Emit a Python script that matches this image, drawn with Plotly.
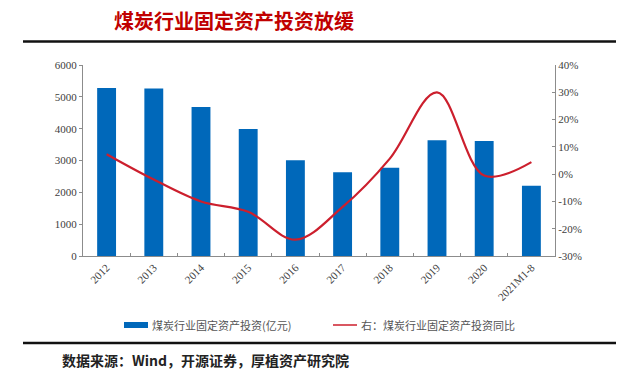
import plotly.graph_objects as go

categories = ["2012", "2013", "2014", "2015", "2016", "2017", "2018", "2019", "2020", "2021M1-8"]
investment = [5280, 5260, 4680, 3990, 3010, 2630, 2770, 3640, 3610, 2210]
yoy_growth = [7.3, -2.0, -10.0, -13.8, -24.0, -12.0, 5.7, 30.0, -0.5, 4.4]

left_ticks = [0, 1000, 2000, 3000, 4000, 5000, 6000]
right_ticks = [-30, -20, -10, 0, 10, 20, 30, 40]
right_labels = [f"{v}%" for v in right_ticks]

title_text = "煤炭行业固定资产投资放缓"
legend_bar = "煤炭行业固定资产投资(亿元)"
legend_line = "右：煤炭行业固定资产投资同比"
source_text = "数据来源：Wind，开源证券，厚植资产研究院"

W, H = 640, 380
L, R, T, B = 83, 85, 65, 124

fig = go.Figure()
fig.add_trace(go.Bar(x=categories, y=investment, marker_color="#0068BA",
                     marker_line_width=0, name=legend_bar, yaxis="y"))
fig.add_trace(go.Scatter(x=categories, y=yoy_growth, mode="lines",
                         line=dict(color="#CC1F2D", width=2.2, shape="spline", smoothing=1.0),
                         name=legend_line, yaxis="y2"))

serif = "Liberation Serif, Times New Roman, serif"
axis_col = "#8c8c8c"

fig.update_layout(
    width=W, height=H,
    margin=dict(l=L, r=R, t=T, b=B, pad=0),
    paper_bgcolor="white", plot_bgcolor="white",
    showlegend=False,
    bargap=0.6,
    xaxis=dict(type="category", tickangle=-45, ticks="inside", tickson="boundaries",
               ticklen=3, tickcolor=axis_col, showline=True, linecolor=axis_col, linewidth=1,
               tickfont=dict(family=serif, size=11, color="#404040"), showgrid=False),
    yaxis=dict(range=[0, 6000], tickvals=left_ticks, ticks="outside", ticklen=3,
               tickcolor=axis_col, showline=True, linecolor=axis_col, linewidth=1,
               showgrid=False, zeroline=False,
               tickfont=dict(family=serif, size=11, color="#404040")),
    yaxis2=dict(range=[-30, 40], tickvals=right_ticks, ticktext=right_labels,
                overlaying="y", side="right", ticks="inside", ticklen=3,
                tickcolor=axis_col, showline=True, linecolor=axis_col, linewidth=1,
                showgrid=False, zeroline=False,
                tickfont=dict(family=serif, size=11, color="#404040")),
)

def to_paper_x(px):
    return (px - L) / (W - L - R)

def to_paper_y(py):
    return (H - B - py) / (H - T - B)

shapes = [
    dict(type="line", xref="paper", yref="paper", x0=to_paper_x(23), x1=to_paper_x(616),
         y0=to_paper_y(41.5), y1=to_paper_y(41.5), line=dict(color="#111111", width=2.5)),
    dict(type="line", xref="paper", yref="paper", x0=to_paper_x(23), x1=to_paper_x(616),
         y0=to_paper_y(343), y1=to_paper_y(343), line=dict(color="#111111", width=2.5)),
    dict(type="rect", xref="paper", yref="paper", x0=to_paper_x(124), x1=to_paper_x(148),
         y0=to_paper_y(328), y1=to_paper_y(322), fillcolor="#0068BA", line=dict(width=0)),
    dict(type="line", xref="paper", yref="paper", x0=to_paper_x(333), x1=to_paper_x(357),
         y0=to_paper_y(325), y1=to_paper_y(325), line=dict(color="#CC1F2D", width=1.5)),
]
fig.update_layout(shapes=shapes)

cjk = "Noto Sans CJK SC, sans-serif"
annotations = [
    dict(text=f"<b>{title_text}</b>", x=to_paper_x(234), y=to_paper_y(20), xref="paper", yref="paper",
         showarrow=False, xanchor="center", yanchor="middle",
         font=dict(family=cjk, size=20, color="#C00000")),
    dict(text=legend_bar, x=to_paper_x(150), y=to_paper_y(325), xref="paper", yref="paper",
         showarrow=False, xanchor="left", yanchor="middle",
         font=dict(family=cjk, size=11, color="#555555")),
    dict(text=legend_line, x=to_paper_x(359), y=to_paper_y(325), xref="paper", yref="paper",
         showarrow=False, xanchor="left", yanchor="middle",
         font=dict(family=cjk, size=11, color="#555555")),
    dict(text=f"<b>{source_text}</b>", x=to_paper_x(60), y=to_paper_y(360), xref="paper", yref="paper",
         showarrow=False, xanchor="left", yanchor="middle",
         font=dict(family=cjk, size=14, color="#222222")),
]
fig.update_layout(annotations=annotations)

fig.write_html("out.html", config={"displayModeBar": False},
               post_script="document.body.style.margin='0';")
